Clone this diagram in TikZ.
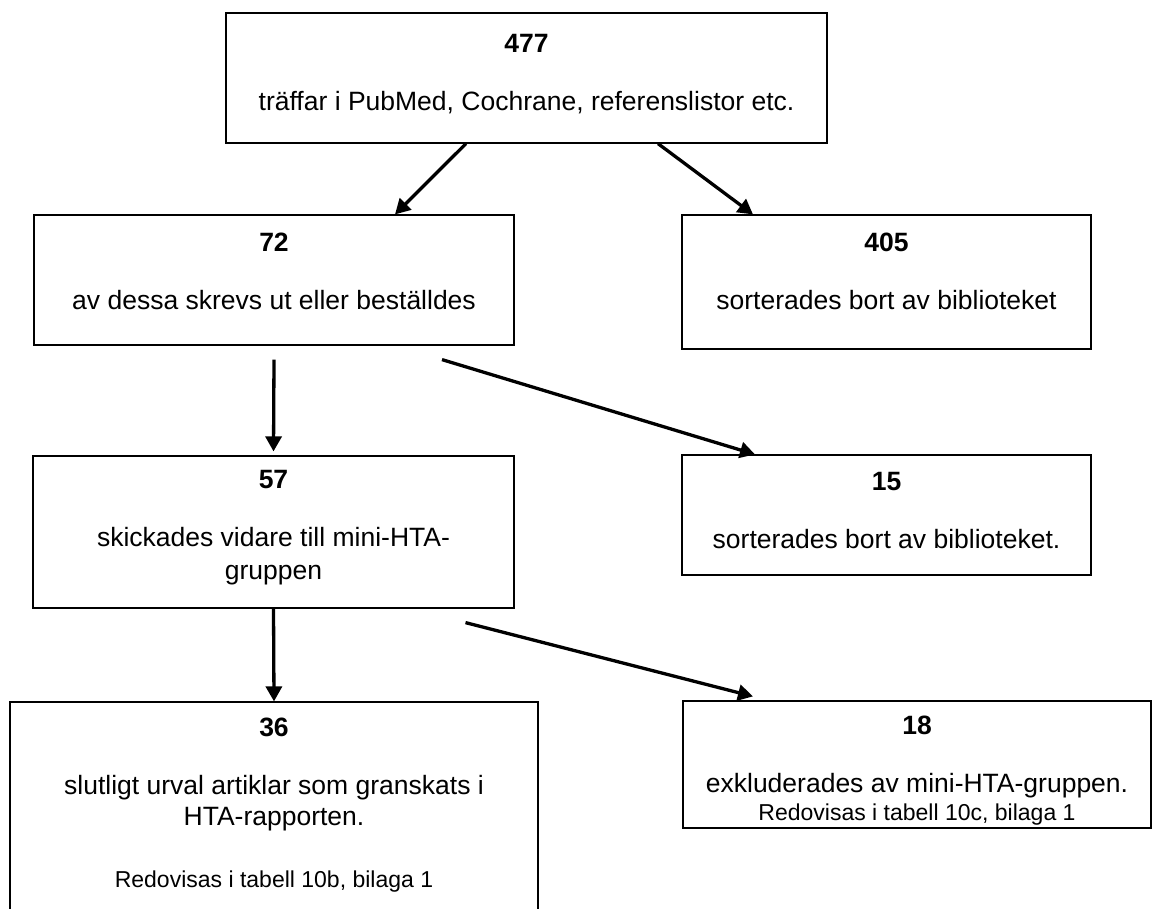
\documentclass[tikz,border=0pt]{standalone}
\usepackage{fontspec}
\setmainfont{Liberation Sans}
\usetikzlibrary{arrows.meta, positioning}
\begin{document}
\begin{tikzpicture}[
  x=1pt, y=-1pt,
  frame/.style={draw, line width=1.2pt, inner sep=0pt},
  txt/.style={align=center, inner sep=0pt, anchor=north, font=\fontsize{26.5}{31}\selectfont},
  flow/.style={->, line width=3.3pt},
  >={Triangle[length=15pt,width=16pt]}
]
\useasboundingbox (0,0) rectangle (1153,908);
\clip (0,0) rectangle (1153,908);
\node[frame, minimum width=601pt, minimum height=130pt] (hits)  at (526.5,78)  {};
\node[frame, minimum width=480pt, minimum height=130pt] (sel)   at (274,280)   {};
\node[frame, minimum width=409pt, minimum height=134pt] (lib1)  at (886.5,282) {};
\node[frame, minimum width=481pt, minimum height=152pt] (sent)  at (273.5,532) {};
\node[frame, minimum width=409pt, minimum height=120pt] (lib2)  at (886.5,515) {};
\node[frame, minimum width=528pt, minimum height=210pt] (final) at (274,807)   {};
\node[frame, minimum width=468pt, minimum height=127pt] (excl)  at (917,764.5) {};
\node[txt, below=22pt of hits.north]  (hitstxt)  {\textbf{477}\\[27pt]träffar i PubMed, Cochrane, referenslistor etc.};
\node[txt, below=18pt of sel.north]   (seltxt)   {\textbf{72}\\[27pt]av dessa skrevs ut eller beställdes};
\node[txt, below=18pt of lib1.north]  (lib1txt)  {\textbf{405}\\[27pt]sorterades bort av biblioteket};
\node[txt, below=15pt of sent.north]  (senttxt)  {\textbf{57}\\[27pt]skickades vidare till mini-HTA-\\[2pt]gruppen};
\node[txt, below=18pt of lib2.north]  (lib2txt)  {\textbf{15}\\[27pt]sorterades bort av biblioteket.};
\node[txt, below=16pt of final.north] (finaltxt) {\textbf{36}\\[27pt]slutligt urval artiklar som granskats i\\HTA-rapporten.\\[31pt]{\fontsize{23}{27}\selectfont Redovisas i tabell 10b, bilaga 1}};
\node[txt, below=15pt of excl.north]  (excltxt)  {\textbf{18}\\[27pt]exkluderades av mini-HTA-gruppen.\\[-3pt]{\fontsize{23}{27}\selectfont Redovisas i tabell 10c, bilaga 1}};
\draw[flow] ([xshift=-60.5pt]hits.south) -- ([xshift=121pt]sel.north);
\draw[flow] ([xshift=131.5pt]hits.south) -- ([xshift=-133.5pt]lib1.north);
\draw[flow] ([yshift=-14pt]sel.south) -- ([yshift=4pt]sent.north);
\draw[flow] ([xshift=168pt,yshift=-14pt]sel.south) -- ([xshift=-131.5pt]lib2.north);
\draw[flow] (sent.south) -- (final.north);
\draw[flow] ([xshift=192pt,yshift=-14pt]sent.south) -- ([xshift=-164pt,yshift=4pt]excl.north);
\end{tikzpicture}
\end{document}
